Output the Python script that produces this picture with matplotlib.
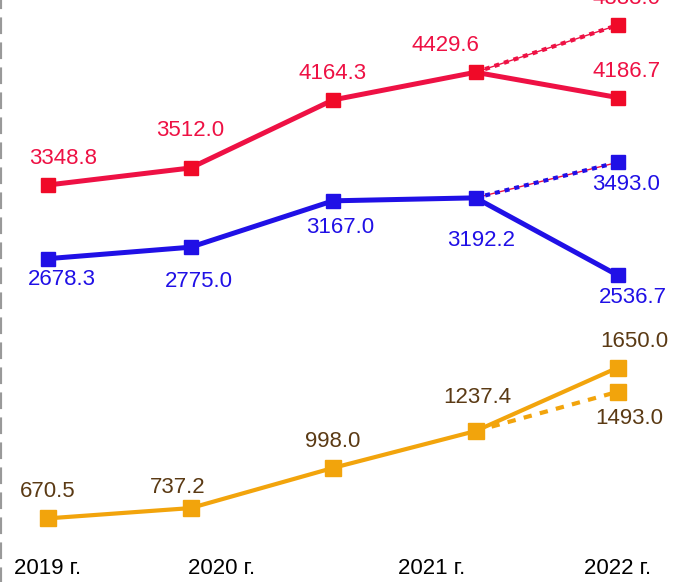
import matplotlib
matplotlib.use("Agg")
import matplotlib.pyplot as plt

plt.rcParams["font.family"] = ["Liberation Sans", "DejaVu Sans"]

# data
x_points = [0, 1, 2, 3, 4]
year_labels = ["2019 г.", "2020 г.", "2021 г.", "2022 г."]
year_ticks = [0, 1.22, 2.69, 4]

red_fact = [3348.8, 3512.0, 4164.3, 4429.6, 4186.7]
red_plan = 4883.0
blue_fact = [2678.3, 2775.0, 3167.0, 3192.2, 2536.7]
blue_plan = 3493.0
orange_fact = [670.5, 737.2, 998.0, 1237.4, 1650.0]
orange_alt = 1493.0

RED = "#EE1144"
BLUE = "#2010E6"
ORANGE = "#F2A40C"
BROWN = "#5B3A14"
FS = 16

W, H = 685, 582
fig = plt.figure(figsize=(W / 100, H / 100), dpi=100)
ax = fig.add_axes([0, 0, 1, 1])
ax.set_xlim(-48 / 142.5, (W - 48) / 142.5)
ax.set_yticks([])
ax.set_xticks(year_ticks)
ax.set_xticklabels(year_labels, fontsize=FS)
ax.tick_params(axis="x", length=0, pad=-17)
for side in ["top", "right", "bottom"]:
    ax.spines[side].set_visible(False)
ax.spines["left"].set_color("#999999")
ax.spines["left"].set_linewidth(3)
ax.spines["left"].set_linestyle((0, (3, 3)))


def series_axes(v0, p0, px_per_unit):
    # each series sits in its own band, like the original drawing
    a = ax.twinx()
    a.set_ylim(v0 - (H - p0) / px_per_unit, v0 + p0 / px_per_unit)
    a.set_xlim(ax.get_xlim())
    a.axis("off")
    return a


ax_r = series_axes(3348.8, 185, 0.1043)
ax_b = series_axes(2973.7, 223.7, 0.1183)
ax_o = series_axes(1058.6, 458.6, 0.154)

# red
ax_r.plot([x_points[3], x_points[4]], [red_fact[3], red_plan], color=RED, lw=1, zorder=2)
ax_r.plot([x_points[3], x_points[4]], [red_fact[3], red_plan], color=RED, lw=3,
          linestyle=(0, (1.2, 1.2)), zorder=2)
ax_r.plot(x_points, red_fact, color=RED, lw=3.6, marker="s", ms=10, mfc="#F00A28",
          mec="#F00A28", zorder=3)
ax_r.plot([x_points[4]], [red_plan], marker="s", ms=10, color="#F00A28", zorder=3)

# blue
ax_b.plot([x_points[3], x_points[4]], [blue_fact[3], blue_plan], color=RED, lw=1, zorder=2)
ax_b.plot([x_points[3], x_points[4]], [blue_fact[3], blue_plan], color=BLUE, lw=3,
          linestyle=(0, (1.2, 1.2)), zorder=2)
ax_b.plot(x_points, blue_fact, color=BLUE, lw=3.6, marker="s", ms=10, zorder=3)
ax_b.plot([x_points[4]], [blue_plan], marker="s", ms=10, color=BLUE, zorder=3)

# orange
ax_o.plot([x_points[3], x_points[4]], [orange_fact[3], orange_alt], color=ORANGE, lw=3,
          linestyle=(0, (2, 2)), zorder=2)
ax_o.plot(x_points, orange_fact, color=ORANGE, lw=3, marker="s", ms=12, zorder=3)
ax_o.plot([x_points[4]], [orange_alt], marker="s", ms=12, color=ORANGE, zorder=3)

# value labels
red_off = [(11, 19), (0, 27), (0, 19), (-22, 19), (6, 19)]
blue_off = [(10, -15), (6, -25), (5, -19), (4, -31), (11, -16)]
orange_off = [(0, 19), (-9, 15), (0, 19), (1, 24), (12, 19)]

for xv, v, off in zip(x_points, red_fact, red_off):
    ax_r.annotate(f"{v:.1f}", (xv, v), xytext=off, textcoords="offset points",
                  ha="center", va="center", color=RED, fontsize=FS)
ax_r.annotate(f"{red_plan:.1f}", (x_points[4], red_plan), xytext=(6, 19),
              textcoords="offset points", ha="center", va="center", color=RED, fontsize=FS)

for xv, v, off in zip(x_points, blue_fact, blue_off):
    ax_b.annotate(f"{v:.1f}", (xv, v), xytext=off, textcoords="offset points",
                  ha="center", va="center", color=BLUE, fontsize=FS)
ax_b.annotate(f"{blue_plan:.1f}", (x_points[4], blue_plan), xytext=(6, -16),
              textcoords="offset points", ha="center", va="center", color=BLUE, fontsize=FS)

for xv, v, off in zip(x_points, orange_fact, orange_off):
    ax_o.annotate(f"{v:.1f}", (xv, v), xytext=off, textcoords="offset points",
                  ha="center", va="center", color=BROWN, fontsize=FS)
ax_o.annotate(f"{orange_alt:.1f}", (x_points[4], orange_alt), xytext=(8, -19),
              textcoords="offset points", ha="center", va="center", color=BROWN, fontsize=FS)

fig.savefig("out.png", dpi=100)
plt.close(fig)
